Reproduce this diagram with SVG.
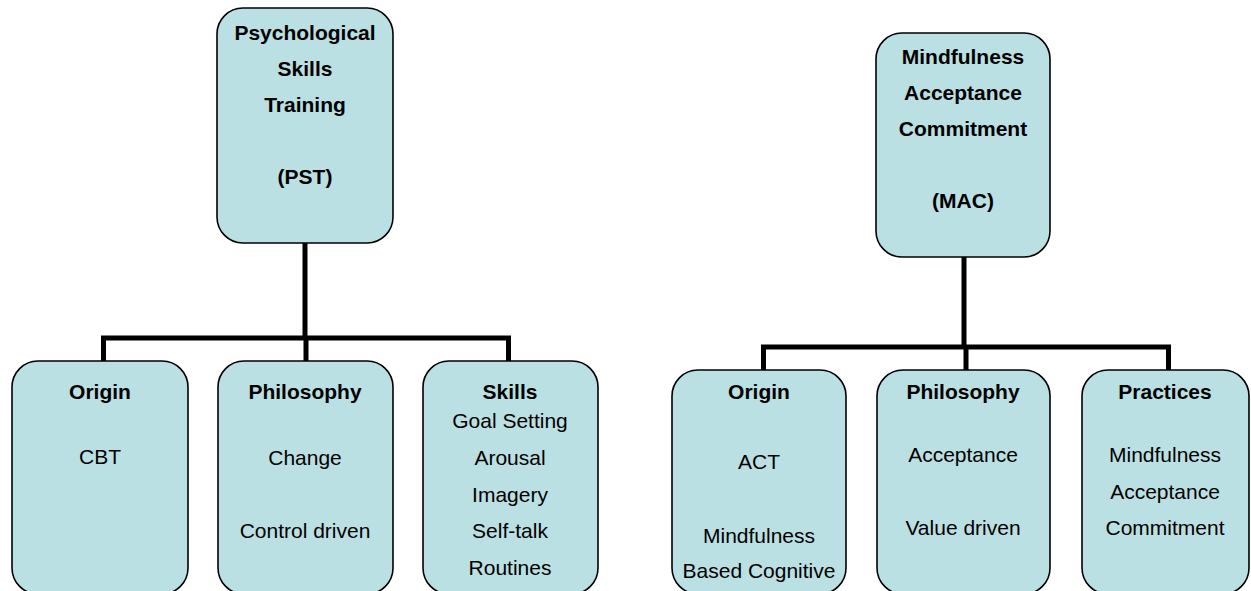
<svg xmlns="http://www.w3.org/2000/svg" width="1251" height="591" viewBox="0 0 1251 591">
<style>
.box{fill:#BBE0E3;stroke:#000;stroke-width:1.6}
.t{font-family:"Liberation Sans",Arial,sans-serif;font-size:21px;fill:#000;text-anchor:middle;dominant-baseline:central}
.b{font-weight:bold}
.conn{fill:none;stroke:#000;stroke-width:5;stroke-linejoin:miter;stroke-linecap:butt}
</style>
<rect width="1251" height="591" fill="#fff"/>
<g id="connectors">
<path class="conn" d="M305 243 V338 M101 338 H511 M103.5 338 V361 M306 338 V361 M508.5 338 V361"/>
<path class="conn" d="M964 257 V347 M761 347 H1171 M763.5 347 V370 M966 347 V370 M1168.5 347 V370"/>
</g>
<g id="pst">
<rect class="box" x="217" y="8" width="176" height="235" rx="26"/>
<text class="t b" x="305" y="32">Psychological</text>
<text class="t b" x="305" y="68">Skills</text>
<text class="t b" x="305" y="104">Training</text>
<text class="t b" x="305" y="176">(PST)</text>
</g>
<g id="pst-origin">
<rect class="box" x="12" y="361" width="176" height="233" rx="26"/>
<text class="t b" x="100" y="391">Origin</text>
<text class="t" x="100" y="456">CBT</text>
</g>
<g id="pst-philosophy">
<rect class="box" x="218" y="361" width="175" height="233" rx="26"/>
<text class="t b" x="305" y="391">Philosophy</text>
<text class="t" x="305" y="457">Change</text>
<text class="t" x="305" y="530">Control driven</text>
</g>
<g id="pst-skills">
<rect class="box" x="423" y="361" width="175" height="233" rx="26"/>
<text class="t b" x="510" y="391">Skills</text>
<text class="t" x="510" y="420">Goal Setting</text>
<text class="t" x="510" y="457">Arousal</text>
<text class="t" x="510" y="494">Imagery</text>
<text class="t" x="510" y="530">Self-talk</text>
<text class="t" x="510" y="567">Routines</text>
</g>
<g id="mac">
<rect class="box" x="876" y="33" width="174" height="224" rx="26"/>
<text class="t b" x="963" y="56">Mindfulness</text>
<text class="t b" x="963" y="92">Acceptance</text>
<text class="t b" x="963" y="128">Commitment</text>
<text class="t b" x="963" y="200">(MAC)</text>
</g>
<g id="mac-origin">
<rect class="box" x="672" y="370" width="174" height="224" rx="26"/>
<text class="t b" x="759" y="391">Origin</text>
<text class="t" x="759" y="461">ACT</text>
<text class="t" x="759" y="535">Mindfulness</text>
<text class="t" x="759" y="570">Based Cognitive</text>
</g>
<g id="mac-philosophy">
<rect class="box" x="877" y="370" width="173" height="224" rx="26"/>
<text class="t b" x="963" y="391">Philosophy</text>
<text class="t" x="963" y="454">Acceptance</text>
<text class="t" x="963" y="527">Value driven</text>
</g>
<g id="mac-practices">
<rect class="box" x="1082" y="370" width="167" height="224" rx="26"/>
<text class="t b" x="1165" y="391">Practices</text>
<text class="t" x="1165" y="454">Mindfulness</text>
<text class="t" x="1165" y="491">Acceptance</text>
<text class="t" x="1165" y="527">Commitment</text>
</g>
</svg>
